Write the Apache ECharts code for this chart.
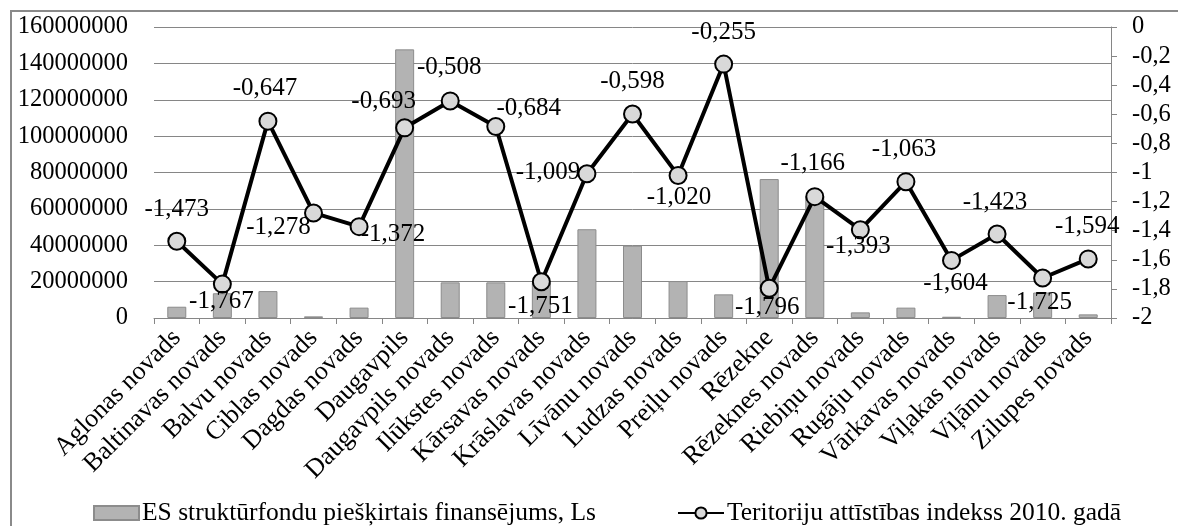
<!DOCTYPE html>
<html>
<head>
<meta charset="utf-8">
<script src="https://cdn.jsdelivr.net/npm/echarts@6/dist/echarts.min.js"></script>
<style>
html,body{margin:0;padding:0;background:#fff;}
#chart{width:1178px;height:526px;}
</style>
</head>
<body>
<div id="chart"></div>
<script>
// ---- data ----
const categories = [
  "Aglonas novads","Baltinavas novads","Balvu novads","Ciblas novads","Dagdas novads",
  "Daugavpils","Daugavpils novads","Ilūkstes novads","Kārsavas novads","Krāslavas novads",
  "Līvānu novads","Ludzas novads","Preiļu novads","Rēzekne","Rēzeknes novads",
  "Riebiņu novads","Rugāju novads","Vārkavas novads","Viļakas novads","Viļānu novads","Zilupes novads"
];
const fundingValues = [
  6200000, 13600000, 14800000, 900000, 5700000,
  147700000, 19600000, 19600000, 19500000, 48800000,
  39800000, 20300000, 13000000, 76400000, 67000000,
  3100000, 5700000, 700000, 12600000, 14000000, 2000000
];
const indexValues = [
  -1.473, -1.767, -0.647, -1.278, -1.372,
  -0.693, -0.508, -0.684, -1.751, -1.009,
  -0.598, -1.020, -0.255, -1.796, -1.166,
  -1.393, -1.063, -1.604, -1.423, -1.725, -1.594
];
const leftTicks = {min: 0, max: 160000000, interval: 20000000};
const rightTicks = {min: -2, max: 0, interval: 0.2};
const barName = "ES struktūrfondu piešķirtais finansējums, Ls";
const lineName = "Teritoriju attīstības indekss 2010. gadā";

// ---- layout (label offsets relative to marker centre) ----
const labelOffsets = [
  [0,-32],[-1,17],[-3,-33],[-35,14],[34,8],
  [-21,-26],[-1,-33],[33,-18],[-1,25],[-39,-1],
  [0,-33],[1,22],[0,-32],[-2,19],[-2,-33],
  [-2,17],[-2,-32],[4,23],[-2,-32],[-3,24],[-1,-32]
];

const FONT = "Liberation Serif";
const gridColor = "#868686";
const fmtComma = (v, d) => (d === undefined ? String(+(+v).toFixed(1)) : (+v).toFixed(d)).replace('.', ',');

const chart = echarts.init(document.getElementById('chart'));
chart.setOption({
  animation: false,
  textStyle: {fontFamily: FONT, color: '#000'},
  grid: {left: 154, right: 67, top: 27, bottom: 208},
  graphic: [{
    type: 'rect', silent: true, z: 100,
    shape: {x: 11, y: 11, width: 1300, height: 700},
    style: {fill: 'none', stroke: '#8a8a8a', lineWidth: 2}
  }],
  legend: [{
    left: 88, top: 495, itemWidth: 45, itemHeight: 14,
    data: [{name: barName, icon: 'rect'}],
    textStyle: {fontFamily: FONT, fontSize: 25.5, color: '#000', padding: [0,0,0,-2]}
  }, {
    left: 672, top: 495, itemWidth: 46, itemHeight: 14,
    data: [{name: lineName}],
    textStyle: {fontFamily: FONT, fontSize: 25.5, color: '#000', padding: [0,0,0,-2]}
  }],
  xAxis: {
    type: 'category', data: categories, boundaryGap: true,
    axisLine: {lineStyle: {color: gridColor, width: 1}},
    axisTick: {show: true, length: 6, interval: 0, lineStyle: {color: gridColor}},
    axisLabel: {interval: 0, rotate: 45, margin: 16, fontFamily: FONT, fontSize: 26, color: '#000'}
  },
  yAxis: [{
    type: 'value', position: 'left',
    min: leftTicks.min, max: leftTicks.max, interval: leftTicks.interval,
    axisLine: {show: false}, axisTick: {show: false},
    axisLabel: {margin: 26, fontFamily: FONT, fontSize: 24.5, color: '#000', formatter: v => String(v)},
    splitLine: {show: true, lineStyle: {color: gridColor, width: 1}}
  }, {
    type: 'value', position: 'right',
    min: rightTicks.min, max: rightTicks.max, interval: rightTicks.interval,
    axisLine: {show: true, lineStyle: {color: gridColor, width: 1}},
    axisTick: {show: true, length: 6, lineStyle: {color: gridColor}},
    axisLabel: {margin: 21, fontFamily: FONT, fontSize: 24.5, color: '#000', formatter: v => fmtComma(v)},
    splitLine: {show: false}
  }],
  series: [{
    name: barName, type: 'bar', yAxisIndex: 0, data: fundingValues,
    barWidth: 19,
    itemStyle: {color: '#b3b3b3', borderColor: '#8c8c8c', borderWidth: 1},
    z: 2
  }, {
    name: lineName, type: 'line', yAxisIndex: 1,
    data: indexValues.map((v, i) => ({value: v, label: {offset: labelOffsets[i]}})),
    symbol: 'circle', symbolSize: 17,
    lineStyle: {color: '#000', width: 4},
    itemStyle: {color: '#d9d9d9', borderColor: '#000', borderWidth: 2},
    label: {show: true, position: 'inside', fontFamily: FONT, fontSize: 25, color: '#000',
      formatter: p => fmtComma(p.value, 3)},
    z: 5
  }]
});
</script>
</body>
</html>
